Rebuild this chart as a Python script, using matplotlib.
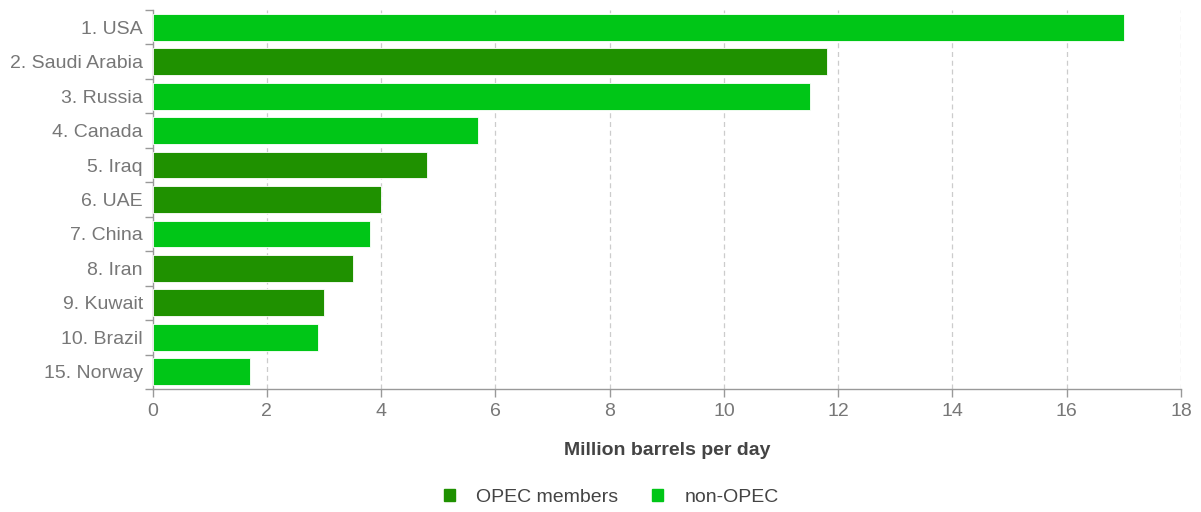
import matplotlib.pyplot as plt
from matplotlib.patches import Patch

plt.rcParams['font.family'] = ['Liberation Sans', 'DejaVu Sans']

countries = ['1. USA', '2. Saudi Arabia', '3. Russia', '4. Canada', '5. Iraq',
             '6. UAE', '7. China', '8. Iran', '9. Kuwait', '10. Brazil',
             '15. Norway']
production = [17.0, 11.8, 11.5, 5.7, 4.8, 4.0, 3.8, 3.5, 3.0, 2.9, 1.7]
opec = [False, True, False, False, True, True, False, True, True, False, False]

OPEC_COLOR = '#1f9100'
NON_OPEC_COLOR = '#00c617'
AXIS_GRAY = '#999999'
TEXT_GRAY = '#777777'
FS = 14

fig = plt.figure(figsize=(12.01, 5.12), dpi=100)
ax = fig.add_axes([0.127, 0.2402, 0.8564, 0.7403])

ypos = list(range(len(countries)))
colors = [OPEC_COLOR if o else NON_OPEC_COLOR for o in opec]
ax.barh(ypos, production, height=0.78, color=colors, edgecolor='white',
        linewidth=0.6, zorder=3)

ax.set_ylim(len(countries) - 0.5, -0.5)
ax.set_xlim(0, 18)
ax.set_xticks(range(0, 19, 2))
ax.set_yticks(ypos)
ax.set_yticklabels(countries)

# ticks on the y axis sit between categories, labels in the middle
ax.set_yticks([y - 0.5 for y in ypos] + [len(countries) - 0.5], minor=True)
ax.tick_params(axis='y', which='major', length=0, pad=7,
               labelsize=FS, labelcolor=TEXT_GRAY)
ax.tick_params(axis='y', which='minor', length=6, color=AXIS_GRAY, width=1)
ax.tick_params(axis='x', which='major', length=6, color=AXIS_GRAY, width=1,
               labelsize=FS, labelcolor=TEXT_GRAY, pad=4)

for x in range(2, 19, 2):
    ax.axvline(x, color='#cccccc', linestyle=(0, (4, 3)), linewidth=0.9,
               zorder=1)

for side in ['top', 'right']:
    ax.spines[side].set_visible(False)
for side in ['left', 'bottom']:
    ax.spines[side].set_color(AXIS_GRAY)
    ax.spines[side].set_linewidth(1)

ax.set_xlabel('Million barrels per day', fontsize=FS, fontweight='bold',
              color='#444444', labelpad=16)

handles = [Patch(color=OPEC_COLOR, label='OPEC members'),
           Patch(color=NON_OPEC_COLOR, label='non-OPEC')]
fig.legend(handles=handles, loc='center', bbox_to_anchor=(0.509, 0.028),
           ncol=2, frameon=False, fontsize=FS, labelcolor='#444444',
           handlelength=0.55, handleheight=0.55, handletextpad=1.1,
           columnspacing=1.75)

fig.savefig('out.png', dpi=100)
